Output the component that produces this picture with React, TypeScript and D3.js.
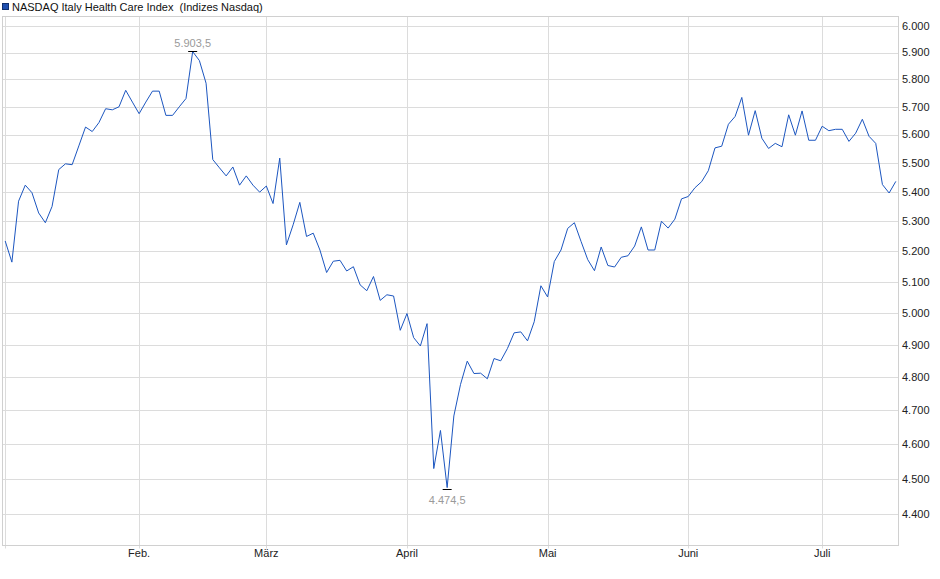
import React, {useEffect, useRef} from 'react';
import * as d3 from 'd3';

const title = "NASDAQ Italy Health Care Index  (Indizes Nasdaq)";

// US trading calendar used by the index
const firstDay = "2025-01-02";
const lastDay = "2025-07-17";
const holidays = ["2025-01-09", "2025-01-20", "2025-02-17", "2025-04-18", "2025-05-26", "2025-06-19", "2025-07-04"];

const monthLabels = ["", "Feb.", "März", "April", "Mai", "Juni", "Juli"];

const yTicks = [4400, 4500, 4600, 4700, 4800, 4900, 5000, 5100, 5200, 5300, 5400, 5500, 5600, 5700, 5800, 5900, 6000];

// daily closes
const closes = [
    5234, 5164, 5368, 5423, 5397, 5328, 5295, 5350, 5477, 5497,
    5494, 5560, 5627, 5611, 5643, 5693, 5689, 5700, 5760, 5717,
    5675, 5717, 5757, 5757, 5669, 5669, 5700, 5730, 5903.5, 5870,
    5786, 5512, 5483, 5455, 5486, 5423, 5455, 5423, 5399, 5420,
    5360, 5517, 5221, 5288, 5364, 5249, 5260, 5204, 5130, 5167,
    5170, 5135, 5149, 5090, 5071, 5117, 5040, 5058, 5054, 4945,
    4998, 4922, 4896, 4966, 4529, 4640, 4474.5, 4683, 4778, 4849,
    4811, 4812, 4795, 4857, 4850, 4888, 4937, 4940, 4912, 4972,
    5087, 5051, 5166, 5204, 5276, 5295, 5232, 5172, 5136, 5214,
    5153, 5148, 5180, 5185, 5217, 5281, 5204, 5204, 5300, 5277,
    5307, 5376, 5384, 5414, 5435, 5473, 5553, 5559, 5637, 5665,
    5734, 5598, 5686, 5587, 5551, 5569, 5557, 5671, 5598, 5685,
    5580, 5580, 5630, 5614, 5619, 5619, 5576, 5605, 5655, 5594,
    5569, 5425, 5396, 5436,
];

const App = () => {
    const ref = useRef(null);

    useEffect(() => {
        const left = 2.5, right = 898.5, top = 16.5, bottom = 545.5;
        const font = "'Liberation Sans', Arial, sans-serif";

        const de = d3.formatLocale({decimal: ",", thousands: ".", grouping: [3], currency: ["", " €"]});
        const fmtTick = de.format(",.0f");
        const fmtVal = de.format(",.1f");

        const fmtDay = d3.utcFormat("%Y-%m-%d");
        const dates = d3.utcDay.range(new Date(firstDay), d3.utcDay.offset(new Date(lastDay), 1))
            .filter(d => d.getUTCDay() !== 0 && d.getUTCDay() !== 6 && !holidays.includes(fmtDay(d)));

        // first trading day of each month
        const monthStarts = dates
            .map((d, i) => ({d, i}))
            .filter(({d, i}) => i === 0 || d.getUTCMonth() !== dates[i - 1].getUTCMonth());

        const x = d3.scaleLinear().domain([-0.4, closes.length - 0.6]).range([left, right]);
        const y = d3.scaleLog().domain([4312.8, 6036.7]).range([bottom, top]);

        const svg = d3.select(ref.current);
        svg.selectAll("*").remove();

        const px = v => Math.round(v) + 0.5;

        // horizontal grid
        svg.append("g")
            .selectAll("line")
            .data(yTicks)
            .join("line")
            .attr("x1", left).attr("x2", right)
            .attr("y1", d => px(y(d))).attr("y2", d => px(y(d)))
            .attr("stroke", "#dcdcdc");

        // month grid + ticks
        svg.append("g")
            .selectAll("line")
            .data(monthStarts)
            .join("line")
            .attr("x1", d => px(x(d.i))).attr("x2", d => px(x(d.i)))
            .attr("y1", top).attr("y2", bottom + 3)
            .attr("stroke", "#dcdcdc");

        // frame
        svg.append("rect")
            .attr("x", left).attr("y", top)
            .attr("width", right - left).attr("height", bottom - top)
            .attr("fill", "none")
            .attr("stroke", "#d0d0d0");

        // y labels
        svg.append("g")
            .style("font-family", font)
            .style("font-size", "11px")
            .attr("fill", "#222")
            .selectAll("text")
            .data(yTicks)
            .join("text")
            .attr("x", 902)
            .attr("y", d => y(d))
            .attr("dy", "0.35em")
            .text(d => fmtTick(d));

        // month labels
        svg.append("g")
            .style("font-family", font)
            .style("font-size", "11px")
            .attr("fill", "#222")
            .attr("text-anchor", "middle")
            .selectAll("text")
            .data(monthStarts)
            .join("text")
            .attr("x", d => x(d.i))
            .attr("y", 557)
            .text(d => monthLabels[d.d.getUTCMonth()] || "");

        // price line
        const line = d3.line<number>()
            .x((d, i) => x(i))
            .y(d => y(d));

        svg.append("path")
            .datum(closes)
            .attr("d", line)
            .attr("fill", "none")
            .attr("stroke", "#1c56c0")
            .attr("stroke-width", 1);

        // high / low markers
        const hi = d3.maxIndex(closes);
        const lo = d3.minIndex(closes);
        const marks = [
            {i: hi, v: closes[hi], dy: -5, cap: -0.5},
            {i: lo, v: closes[lo], dy: 16, cap: 1.5},
        ];

        const mg = svg.append("g");
        mg.selectAll("line")
            .data(marks)
            .join("line")
            .attr("x1", d => x(d.i) - 4.5).attr("x2", d => x(d.i) + 4.5)
            .attr("y1", d => Math.round(y(d.v)) + d.cap).attr("y2", d => Math.round(y(d.v)) + d.cap)
            .attr("stroke", "#000");
        mg.selectAll("text")
            .data(marks)
            .join("text")
            .attr("x", d => x(d.i))
            .attr("y", d => y(d.v) + d.dy)
            .attr("text-anchor", "middle")
            .style("font-family", font)
            .style("font-size", "11px")
            .attr("fill", "#9a9a9a")
            .text(d => fmtVal(d.v));

        // legend
        svg.append("rect")
            .attr("x", 2.5).attr("y", 3.5)
            .attr("width", 6).attr("height", 6)
            .attr("fill", "#1f4fb0")
            .attr("stroke", "#10306e");
        svg.append("text")
            .attr("x", 12).attr("y", 11)
            .style("font-family", font)
            .style("font-size", "11px")
            .style("white-space", "pre")
            .attr("fill", "#111")
            .text(title);
    }, []);

    return (
        <svg ref={ref} width={940} height={579}
             style={{position: "absolute", left: 0, top: 0, background: "#fff"}}/>
    );
};

export default App;
